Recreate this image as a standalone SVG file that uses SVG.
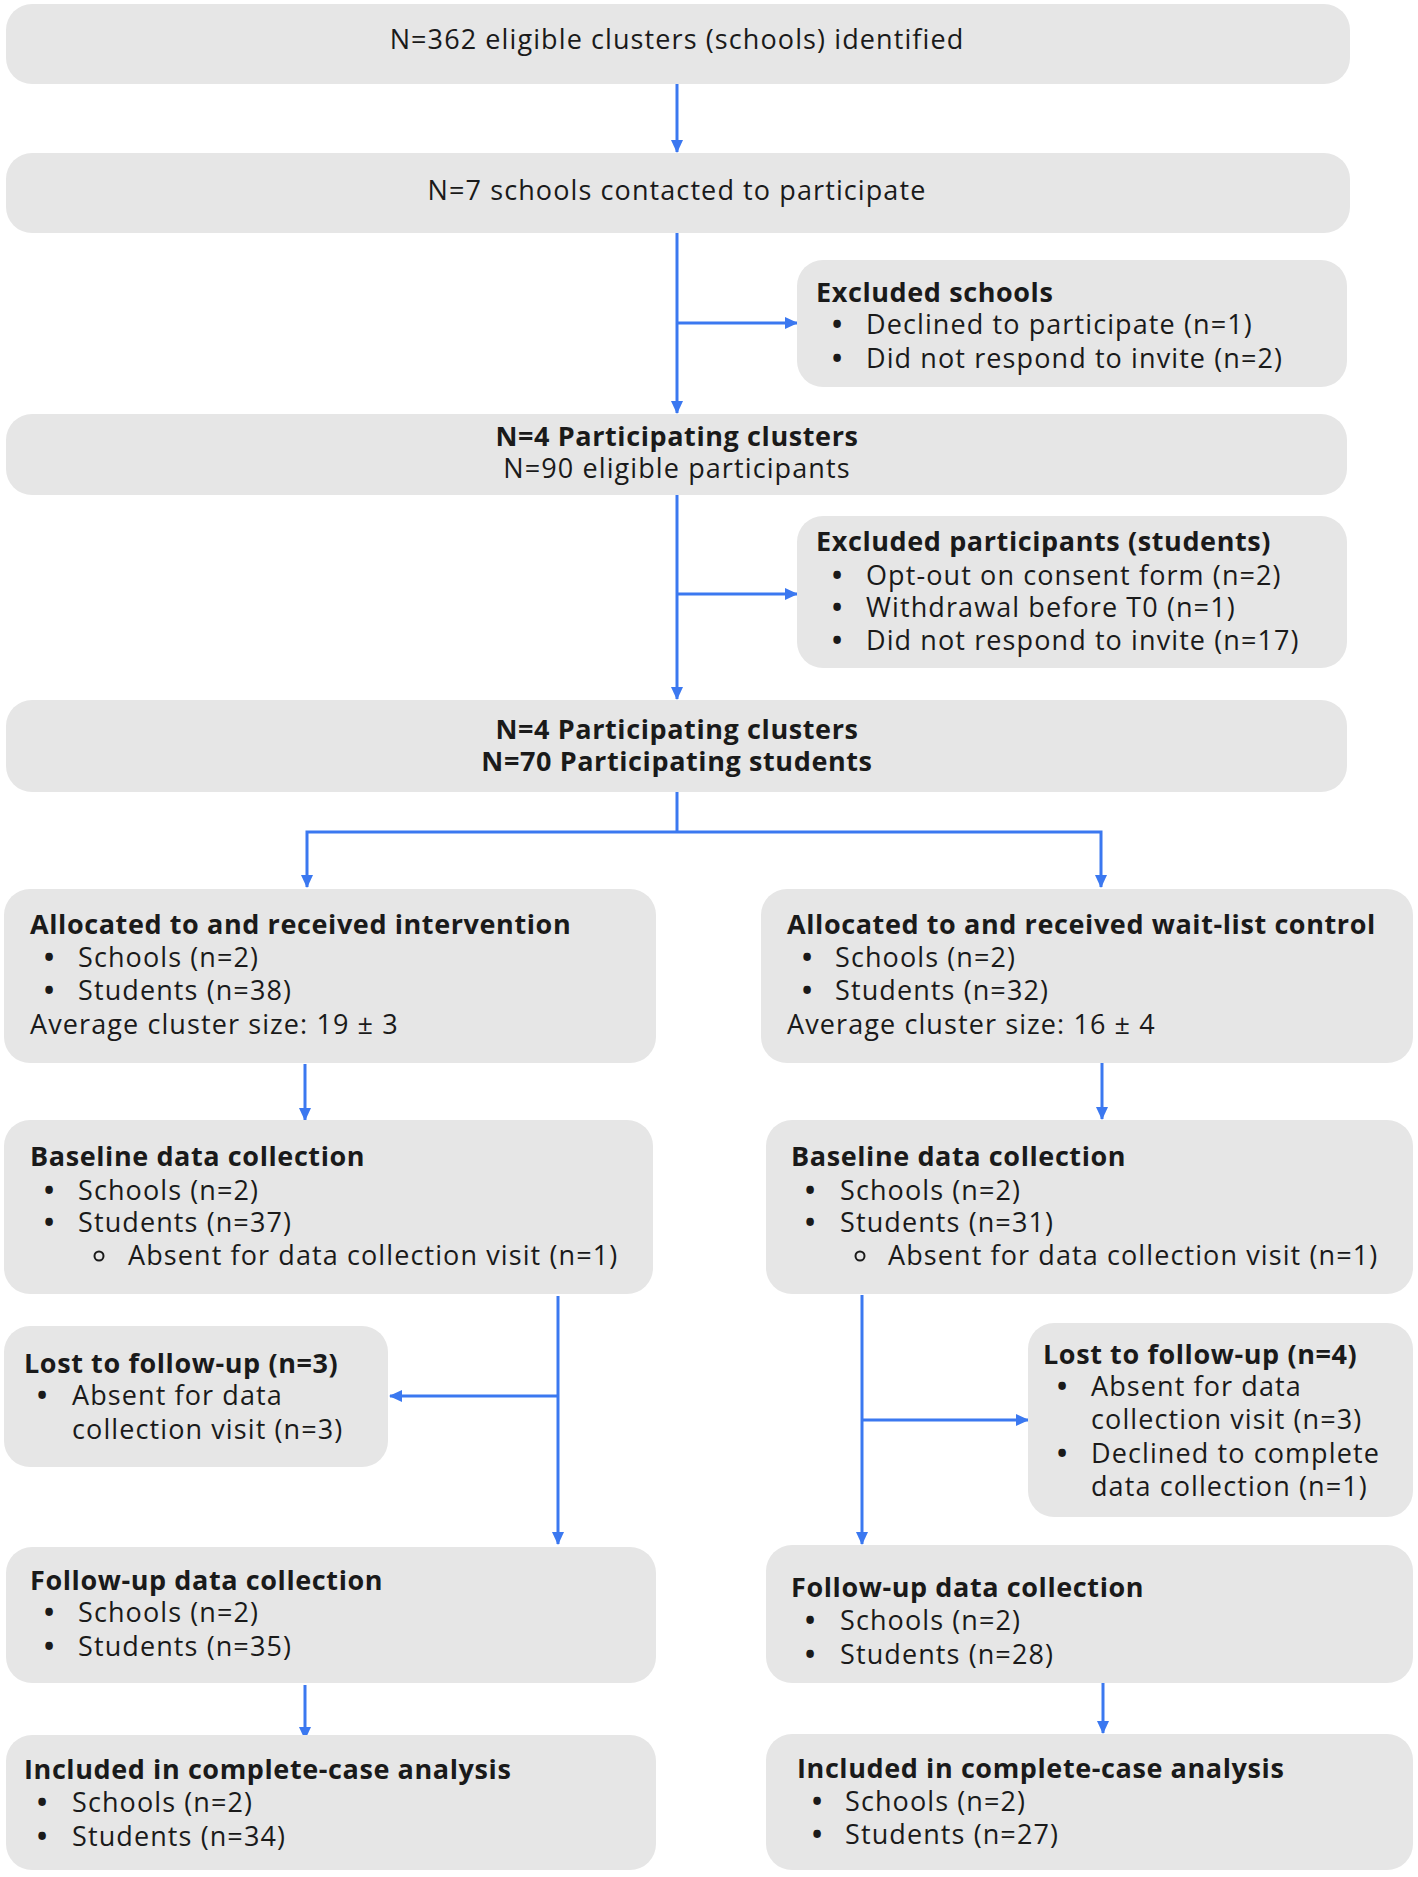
<svg xmlns="http://www.w3.org/2000/svg" width="1418" height="1877" viewBox="0 0 1418 1877">
<defs>
<marker id="ah" markerUnits="userSpaceOnUse" markerWidth="14" markerHeight="14" viewBox="0 0 14 14" refX="12" refY="7" orient="auto">
<path d="M0,1 L13,7 L0,13 Z" fill="#3b78f0"/>
</marker>
<style>
.box{fill:#e6e6e6;}
text{font-family:"Open Sans","Noto Sans","Liberation Sans",sans-serif;font-size:27px;letter-spacing:1.1px;fill:#1a1a1a;}
.c{text-anchor:middle;}
.b{font-weight:bold;letter-spacing:0.6px;}
.bul{font-weight:bold;letter-spacing:0;}
.con{fill:none;stroke:#3b78f0;stroke-width:3;}
.arr{marker-end:url(#ah);}
.hol{fill:none;stroke:#1a1a1a;stroke-width:2;}
</style>
</defs>
<rect width="1418" height="1877" fill="#ffffff"/>

<g id="connectors">
<line class="con arr" x1="677" y1="84" x2="677" y2="152"/>
<line class="con arr" x1="677" y1="233" x2="677" y2="413"/>
<line class="con arr" x1="677" y1="323" x2="797" y2="323"/>
<line class="con arr" x1="677" y1="495" x2="677" y2="699"/>
<line class="con arr" x1="677" y1="594" x2="797" y2="594"/>
<line class="con" x1="677" y1="792" x2="677" y2="832"/>
<polyline class="con arr" points="677,832 307,832 307,887"/>
<polyline class="con arr" points="677,832 1101,832 1101,887"/>
<line class="con arr" x1="305" y1="1064" x2="305" y2="1120"/>
<line class="con arr" x1="1102" y1="1063" x2="1102" y2="1119"/>
<line class="con arr" x1="558" y1="1296" x2="558" y2="1544"/>
<line class="con arr" x1="558" y1="1396" x2="390" y2="1396"/>
<line class="con arr" x1="862" y1="1295" x2="862" y2="1544"/>
<line class="con arr" x1="862" y1="1420" x2="1028" y2="1420"/>
<line class="con arr" x1="305" y1="1685" x2="305" y2="1739"/>
<line class="con arr" x1="1103" y1="1680" x2="1103" y2="1733"/>
</g>

<g id="n1">
<rect class="box" x="6" y="4" width="1344" height="80" rx="26"/>
<text class="c" x="677" y="49">N=362 eligible clusters (schools) identified</text>
</g>

<g id="n2">
<rect class="box" x="6" y="153" width="1344" height="80" rx="26"/>
<text class="c" x="677" y="200">N=7 schools contacted to participate</text>
</g>

<g id="n3">
<rect class="box" x="797" y="260" width="550" height="127" rx="26"/>
<text class="b" x="816" y="302">Excluded schools</text>
<text x="832" y="334"><tspan class="bul">•</tspan><tspan x="866">Declined to participate (n=1)</tspan></text>
<text x="832" y="368"><tspan class="bul">•</tspan><tspan x="866">Did not respond to invite (n=2)</tspan></text>
</g>

<g id="n4">
<rect class="box" x="6" y="414" width="1341" height="81" rx="26"/>
<text class="c b" x="677" y="446">N=4 Participating clusters</text>
<text class="c" x="677" y="478">N=90 eligible participants</text>
</g>

<g id="n5">
<rect class="box" x="797" y="516" width="550" height="152" rx="26"/>
<text class="b" x="816" y="551">Excluded participants (students)</text>
<text x="832" y="585"><tspan class="bul">•</tspan><tspan x="866">Opt-out on consent form (n=2)</tspan></text>
<text x="832" y="617"><tspan class="bul">•</tspan><tspan x="866">Withdrawal before T0 (n=1)</tspan></text>
<text x="832" y="650"><tspan class="bul">•</tspan><tspan x="866">Did not respond to invite (n=17)</tspan></text>
</g>

<g id="n6">
<rect class="box" x="6" y="700" width="1341" height="92" rx="26"/>
<text class="c b" x="677" y="739">N=4 Participating clusters</text>
<text class="c b" x="677" y="771">N=70 Participating students</text>
</g>

<g id="n7">
<rect class="box" x="4" y="889" width="652" height="174" rx="26"/>
<text class="b" x="30" y="934">Allocated to and received intervention</text>
<text x="44" y="967"><tspan class="bul">•</tspan><tspan x="78">Schools (n=2)</tspan></text>
<text x="44" y="1000"><tspan class="bul">•</tspan><tspan x="78">Students (n=38)</tspan></text>
<text x="30" y="1034">Average cluster size: 19 ± 3</text>
</g>

<g id="n8">
<rect class="box" x="761" y="889" width="652" height="174" rx="26"/>
<text class="b" x="787" y="934">Allocated to and received wait-list control</text>
<text x="802" y="967"><tspan class="bul">•</tspan><tspan x="835">Schools (n=2)</tspan></text>
<text x="802" y="1000"><tspan class="bul">•</tspan><tspan x="835">Students (n=32)</tspan></text>
<text x="787" y="1034">Average cluster size: 16 ± 4</text>
</g>

<g id="n9">
<rect class="box" x="4" y="1120" width="649" height="174" rx="26"/>
<text class="b" x="30" y="1166">Baseline data collection</text>
<text x="44" y="1200"><tspan class="bul">•</tspan><tspan x="78">Schools (n=2)</tspan></text>
<text x="44" y="1232"><tspan class="bul">•</tspan><tspan x="78">Students (n=37)</tspan></text>
<circle class="hol" cx="99" cy="1256" r="4.5"/><text x="128" y="1265">Absent for data collection visit (n=1)</text>
</g>

<g id="n10">
<rect class="box" x="766" y="1120" width="647" height="174" rx="26"/>
<text class="b" x="791" y="1166">Baseline data collection</text>
<text x="805" y="1200"><tspan class="bul">•</tspan><tspan x="840">Schools (n=2)</tspan></text>
<text x="805" y="1232"><tspan class="bul">•</tspan><tspan x="840">Students (n=31)</tspan></text>
<circle class="hol" cx="860" cy="1256" r="4.5"/><text x="888" y="1265">Absent for data collection visit (n=1)</text>
</g>

<g id="n11">
<rect class="box" x="4" y="1326" width="384" height="141" rx="26"/>
<text class="b" x="24" y="1373">Lost to follow-up (n=3)</text>
<text x="37" y="1405"><tspan class="bul">•</tspan><tspan x="72">Absent for data</tspan></text>
<text x="72" y="1439">collection visit (n=3)</text>
</g>

<g id="n12">
<rect class="box" x="1028" y="1323" width="385" height="194" rx="26"/>
<text class="b" x="1043" y="1364">Lost to follow-up (n=4)</text>
<text x="1057" y="1396"><tspan class="bul">•</tspan><tspan x="1091">Absent for data</tspan></text>
<text x="1091" y="1429">collection visit (n=3)</text>
<text x="1057" y="1463"><tspan class="bul">•</tspan><tspan x="1091">Declined to complete</tspan></text>
<text x="1091" y="1496">data collection (n=1)</text>
</g>

<g id="n13">
<rect class="box" x="6" y="1547" width="650" height="136" rx="26"/>
<text class="b" x="30" y="1590">Follow-up data collection</text>
<text x="44" y="1622"><tspan class="bul">•</tspan><tspan x="78">Schools (n=2)</tspan></text>
<text x="44" y="1656"><tspan class="bul">•</tspan><tspan x="78">Students (n=35)</tspan></text>
</g>

<g id="n14">
<rect class="box" x="766" y="1545" width="647" height="138" rx="26"/>
<text class="b" x="791" y="1597">Follow-up data collection</text>
<text x="805" y="1630"><tspan class="bul">•</tspan><tspan x="840">Schools (n=2)</tspan></text>
<text x="805" y="1664"><tspan class="bul">•</tspan><tspan x="840">Students (n=28)</tspan></text>
</g>

<g id="n15">
<rect class="box" x="6" y="1735" width="650" height="135" rx="26"/>
<text class="b" x="24" y="1779">Included in complete-case analysis</text>
<text x="37" y="1812"><tspan class="bul">•</tspan><tspan x="72">Schools (n=2)</tspan></text>
<text x="37" y="1846"><tspan class="bul">•</tspan><tspan x="72">Students (n=34)</tspan></text>
</g>

<g id="n16">
<rect class="box" x="766" y="1734" width="647" height="136" rx="26"/>
<text class="b" x="797" y="1778">Included in complete-case analysis</text>
<text x="812" y="1811"><tspan class="bul">•</tspan><tspan x="845">Schools (n=2)</tspan></text>
<text x="812" y="1844"><tspan class="bul">•</tspan><tspan x="845">Students (n=27)</tspan></text>
</g>
</svg>
